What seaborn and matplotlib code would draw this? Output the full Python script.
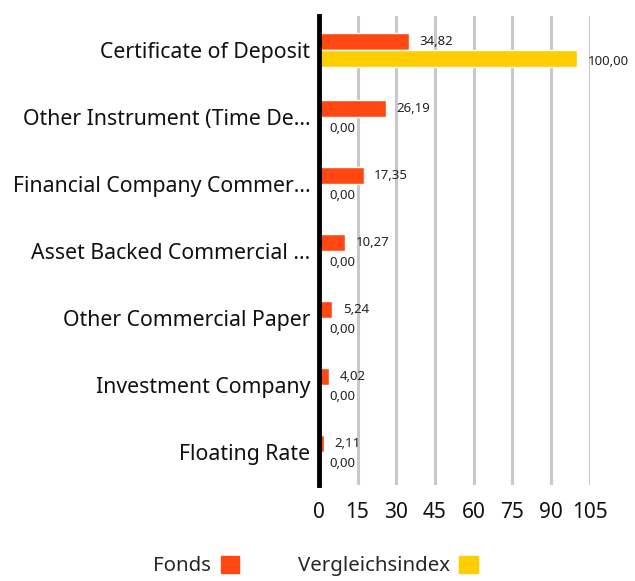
import seaborn as sns
import matplotlib.pyplot as plt
import matplotlib.patches as mpatches
import pandas as pd

categories = [
    "Certificate of Deposit",
    "Other Instrument (Time De...",
    "Financial Company Commer...",
    "Asset Backed Commercial ...",
    "Other Commercial Paper",
    "Investment Company",
    "Floating Rate",
]
fonds = [34.82, 26.19, 17.35, 10.27, 5.24, 4.02, 2.11]
index_vals = [100.00, 0.00, 0.00, 0.00, 0.00, 0.00, 0.00]
series = ["Fonds", "Vergleichsindex"]
colors = ["#FF4713", "#FFCE00"]
xticks = [0, 15, 30, 45, 60, 75, 90, 105]

df = pd.DataFrame({
    "category": categories * 2,
    "value": fonds + index_vals,
    "series": [series[0]] * len(categories) + [series[1]] * len(categories),
})

sns.set_style("white")
plt.rcParams["font.family"] = ["Noto Sans", "DejaVu Sans"]

fig = plt.figure(figsize=(6.35, 5.81), dpi=100)
ax = fig.add_axes([0.502, 0.165, 0.427, 0.807])

sns.barplot(
    data=df, y="category", x="value", hue="series",
    palette=colors, orient="h", width=0.5, gap=0,
    legend=False, ax=ax, saturation=1,
)

# value labels, comma as decimal separator; index labels sit a bit lower
for i, cont in enumerate(ax.containers):
    texts = ax.bar_label(cont, labels=[f"{v:.2f}".replace(".", ",") for v in cont.datavalues],
                         padding=7.5, fontsize=9.5, color="#222222")
    if i == 1:
        for t in texts:
            t.xyann = (7.5, -2.5)

ax.set_xlim(0, 105)
ax.set_xticks(xticks)
ax.set_xlabel("")
ax.set_ylabel("")
ax.grid(axis="x", color="#c8c8c8", linewidth=2.2)
ax.set_axisbelow(True)
ax.tick_params(axis="x", length=0, pad=12, labelsize=15, colors="#111111")
ax.tick_params(axis="y", length=0, pad=6, labelsize=15.3, colors="#111111")
for s in ["top", "right", "bottom"]:
    ax.spines[s].set_visible(False)
ax.spines["left"].set_color("black")
ax.spines["left"].set_linewidth(3.5)
ax.spines["left"].set_zorder(5)

handles = [mpatches.Patch(color=c, label=s) for s, c in zip(series, colors)]
fig.legend(handles=handles, loc="center", bbox_to_anchor=(0.497, 0.026),
           ncol=2, frameon=False, markerfirst=False, fontsize=14.7,
           handlelength=0.9, handleheight=0.9, handletextpad=0.45, columnspacing=2.9)

fig.savefig("out.png", dpi=100)
